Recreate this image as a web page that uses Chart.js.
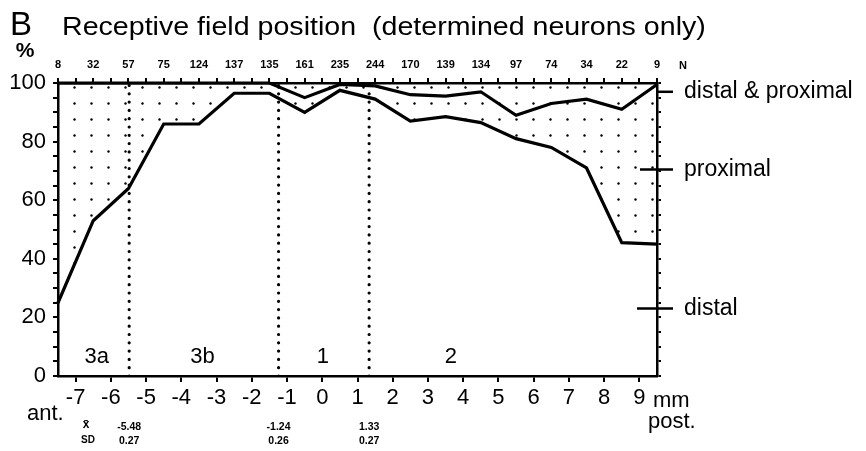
<!DOCTYPE html>
<html><head><meta charset="utf-8">
<script src="https://cdn.jsdelivr.net/npm/chart.js@4/dist/chart.umd.min.js"></script>
<style>html,body{margin:0;padding:0;background:#fff;}#wrap{width:866px;height:451px;position:relative;}</style>
</head><body><div id="wrap"><canvas id="c" width="866" height="451"></canvas></div>
<script>
// ---- data ----
const positionsMm = [-7.5,-6.5,-5.5,-4.5,-3.5,-2.5,-1.5,-0.5,0.5,1.5,2.5,3.5,4.5,5.5,6.5,7.5,8.5,9.5];
const nCounts = [8,32,57,75,124,137,135,161,235,244,170,139,134,97,74,34,22,9];
const proximalBoundary = [100,100,100,100,100,100,100,95,99.5,99,96,95.5,97,89,93,94.5,91,99.5];
const distalBoundary = [25,53,64,86,86,96.5,96.5,90,97.5,94.5,87,88.5,86.5,81,78,71,45.5,45];
const xTickValues = [-7,-6,-5,-4,-3,-2,-1,0,1,2,3,4,5,6,7,8,9];
const yTickLabels = [0,20,40,60,80,100];
const areaNames = ['3a','3b','1','2'];
const boundaryMeans = [-5.48,-1.24,1.33];
const boundarySD = ['0.27','0.26','0.27'];
const regionNames = ['distal & proximal','proximal','distal'];
const titleText = 'Receptive field position  (determined neurons only)';

const FONT = '"Liberation Sans", Arial, Helvetica, sans-serif';
Chart.defaults.font.family = FONT;
Chart.defaults.color = '#000';

const canvas = document.getElementById('c');
const mainCtx = canvas.getContext('2d');
const pc = document.createElement('canvas'); pc.width = 17; pc.height = 16;
const pctx = pc.getContext('2d');
pctx.fillStyle = '#000'; pctx.beginPath(); pctx.arc(6.5, 7.5, 1.2, 0, Math.PI*2); pctx.fill();
const dots = mainCtx.createPattern(pc, 'repeat');

const toPts = arr => positionsMm.map((x,i) => ({x, y: arr[i]}));
const lineStyle = {borderColor:'#000', borderWidth:3.2, pointRadius:0, tension:0, clip:false};

const datasets = [
  Object.assign({label:'proximal boundary', data: toPts(proximalBoundary), fill:false}, lineStyle),
  Object.assign({label:'distal boundary', data: toPts(distalBoundary), fill:'end', backgroundColor: dots}, lineStyle)
];
boundaryMeans.forEach(b => datasets.push({
  label:'boundary', data:[{x:b,y:0},{x:b,y:100}], borderColor:'#000', borderWidth:3.2,
  borderDash:[0,8.3], borderCapStyle:'round', pointRadius:0, fill:false
}));

const layoutPlugin = {
  id:'annot',
  afterDraw(chart){
    const {ctx, scales:{x, y}} = chart;
    ctx.save();
    ctx.fillStyle = '#000'; ctx.strokeStyle = '#000';
    ctx.textBaseline = 'alphabetic'; ctx.textAlign = 'left';
    ctx.font = '33px ' + FONT; ctx.fillText('B', 10, 35);
    ctx.save(); ctx.translate(62, 35); ctx.scale(1.1, 1);
    ctx.font = '26px ' + FONT; ctx.fillText(titleText, 0, 0); ctx.restore();
    ctx.textAlign = 'center'; ctx.textBaseline = 'middle';
    ctx.font = 'bold 21px ' + FONT; ctx.fillText('%', 25, 51);
    ctx.font = 'bold 11px ' + FONT; ctx.fillText('N', 683, 66);
    // right-side region markers
    const markVals = [97, 70.5, 23], markLeft = [0, 17, 20];
    ctx.lineWidth = 2.5; ctx.textAlign = 'left'; ctx.font = '23px ' + FONT;
    regionNames.forEach((t,i) => {
      const py = y.getPixelForValue(markVals[i]);
      ctx.beginPath(); ctx.moveTo(x.right - markLeft[i], py); ctx.lineTo(x.right + 16, py); ctx.stroke();
      ctx.fillText(t, 684, py);
    });
    // area names
    const areaX = [-6.4, -3.4, 0.02, 3.65];
    ctx.textAlign = 'center'; ctx.font = '22px ' + FONT;
    areaNames.forEach((t,i) => ctx.fillText(t, x.getPixelForValue(areaX[i]), y.getPixelForValue(6.5)));
    // axis words
    ctx.textBaseline = 'alphabetic'; ctx.textAlign = 'left'; ctx.font = '22px ' + FONT;
    ctx.fillText('ant.', 27, 420);
    ctx.fillText('mm', 653, 407);
    ctx.fillText('post.', 648, 428);
    ctx.textAlign = 'center';
    ctx.font = 'bold 12px ' + FONT; ctx.fillText('x\u0304', 86, 428);
    ctx.font = 'bold 10px ' + FONT; ctx.fillText('SD', 88, 443);
    ctx.font = 'bold 10.5px ' + FONT;
    boundaryMeans.forEach((b,i) => {
      const px = x.getPixelForValue(b);
      ctx.fillText(b.toFixed(2), px, 430);
      ctx.fillText(boundarySD[i], px, 444);
    });
    ctx.restore();
  }
};

const topTicks = [...new Set([...positionsMm, ...xTickValues])].sort((a,b)=>a-b);

new Chart(canvas, {
  type:'line',
  data:{datasets},
  options:{
    responsive:false, animation:false, devicePixelRatio:1,
    layout:{padding:0},
    plugins:{legend:{display:false}, tooltip:{enabled:false}, title:{display:false}},
    scales:{
      x:{type:'linear', position:'bottom', min:-7.5, max:9.5,
        afterBuildTicks: s => { s.ticks = xTickValues.map(v => ({value:v})); },
        afterFit: s => { s.height = 75; },
        ticks:{font:{size:22}, color:'#000', padding:3, autoSkip:false, maxRotation:0, callback: v => String(v)},
        grid:{drawOnChartArea:false, tickLength:6, color:'#000', lineWidth:2},
        border:{color:'#000', width:2.5}},
      x2:{type:'linear', position:'top', min:-7.5, max:9.5,
        afterBuildTicks: s => { s.ticks = topTicks.map(v => ({value:v})); },
        afterFit: s => { s.height = 83; },
        ticks:{font:{size:11, weight:'bold'}, color:'#000', padding:6, autoSkip:false, maxRotation:0,
          callback: v => { const i = positionsMm.indexOf(v); return i >= 0 ? String(nCounts[i]) : ''; }},
        grid:{drawOnChartArea:false, tickLength:5, color:'#000', lineWidth:2},
        border:{color:'#000', width:2.5}},
      y:{min:0, max:100, position:'left',
        afterFit: s => { s.width = 58; },
        ticks:{stepSize:5, font:{size:22}, color:'#000', padding:7, autoSkip:false,
          callback: v => yTickLabels.includes(v) ? String(v) : ''},
        grid:{drawOnChartArea:false, tickLength:5, color:'#000', lineWidth:2},
        border:{color:'#000', width:2.5}},
      y2:{min:0, max:100, position:'right',
        afterFit: s => { s.width = 209; },
        ticks:{stepSize:5, autoSkip:false, callback: () => ''},
        grid:{drawOnChartArea:false, tickLength:4, color:'#000', lineWidth:2},
        border:{color:'#000', width:2.5}}
    }
  },
  plugins:[layoutPlugin]
});
</script></body></html>
